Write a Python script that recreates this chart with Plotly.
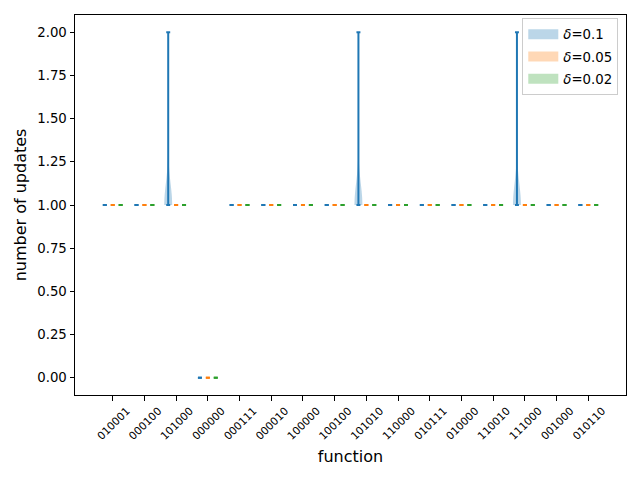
import numpy as np
import plotly.graph_objects as go

functions = ["010001", "000100", "101000", "000000", "000111", "000010", "100000", "100100",
             "101010", "110000", "010111", "010000", "110010", "111000", "001000", "010110"]

# number of updates observed per function: {value: count} for 20 runs
counts_d01 = [{1: 20}, {1: 20}, {1: 19, 2: 1}, {0: 20}, {1: 20}, {1: 20}, {1: 20}, {1: 20},
              {1: 19, 2: 1}, {1: 20}, {1: 20}, {1: 20}, {1: 20}, {1: 19, 2: 1}, {1: 20}, {1: 20}]
counts_d005 = [{1: 20}, {1: 20}, {1: 20}, {0: 20}, {1: 20}, {1: 20}, {1: 20}, {1: 20},
               {1: 20}, {1: 20}, {1: 20}, {1: 20}, {1: 20}, {1: 20}, {1: 20}, {1: 20}]
counts_d002 = [{1: 20}, {1: 20}, {1: 20}, {0: 20}, {1: 20}, {1: 20}, {1: 20}, {1: 20},
               {1: 20}, {1: 20}, {1: 20}, {1: 20}, {1: 20}, {1: 20}, {1: 20}, {1: 20}]

deltas = ["0.1", "0.05", "0.02"]
series = [counts_d01, counts_d005, counts_d002]
colors = ["#1f77b4", "#ff7f0e", "#2ca02c"]
fills = ["rgba(31,119,180,0.3)", "rgba(255,127,14,0.3)", "rgba(44,160,44,0.3)"]

WIDTH = 0.25
OFFSET = 0.25

fig = go.Figure()

def kde(samples, grid):
    s = np.asarray(samples, float)
    n = len(s)
    bw = np.std(s, ddof=1) * n ** (-1 / 5)
    z = (grid[:, None] - s[None, :]) / bw
    return np.exp(-0.5 * z ** 2).sum(axis=1)

for d, (cnts, col, fc) in enumerate(zip(series, colors, fills)):
    bx, by = [], []
    lx, ly = [], []
    for k, c in enumerate(cnts):
        pos = k + (d - 1) * OFFSET
        samples = []
        for v, n in c.items():
            samples += [v] * n
        vmin, vmax = min(samples), max(samples)
        if vmax > vmin:
            grid = np.linspace(vmin, vmax, 100)
            dens = kde(samples, grid)
            dens = dens / dens.max() * WIDTH / 2
            bx += list(pos - dens) + list((pos + dens)[::-1]) + [None]
            by += list(grid) + list(grid[::-1]) + [None]
        for v in (vmin, vmax):
            lx += [pos - WIDTH / 4, pos + WIDTH / 4, None]
            ly += [v, v, None]
        lx += [pos, pos, None]
        ly += [vmin, vmax, None]
    if bx:
        fig.add_trace(go.Scatter(x=bx, y=by, fill="toself", fillcolor=fc, mode="none",
                                 showlegend=False, hoverinfo="skip"))
    fig.add_trace(go.Scatter(x=lx, y=ly, mode="lines", line=dict(color=col, width=2),
                             showlegend=False, hoverinfo="skip"))

for d, fc in enumerate(fills):
    fig.add_trace(go.Scatter(x=[None], y=[None], mode="lines", line=dict(color=fc, width=10),
                             name="<i>δ</i>=" + deltas[d], legendgroup=str(d)))

font = dict(family="DejaVu Sans", size=13.3, color="black")
fig.update_layout(
    width=640, height=480,
    margin=dict(l=75, r=14, t=15, b=85),
    plot_bgcolor="white", paper_bgcolor="white",
    font=font,
    showlegend=True,
    legend=dict(x=0.986, y=0.992, xanchor="right", yanchor="top",
                bgcolor="rgba(255,255,255,0.8)", bordercolor="#cccccc", borderwidth=1,
                font=dict(family="DejaVu Sans", size=13.3), tracegroupgap=2,
                itemwidth=30),
    xaxis=dict(range=[-1.19, 16.19], tickmode="array", tickvals=list(range(len(functions))),
               ticktext=functions, tickangle=-45, tickfont=dict(size=10.7),
               ticks="outside", ticklen=4.5, tickwidth=1, tickcolor="black",
               showline=True, linecolor="black", linewidth=1, mirror=True,
               showgrid=False, zeroline=False, ticklabelshift=14, automargin=False,
               title=dict(text="function", standoff=9)),
    yaxis=dict(range=[-0.1, 2.1], tickmode="array",
               tickvals=[0, 0.25, 0.5, 0.75, 1.0, 1.25, 1.5, 1.75, 2.0],
               tickformat=".2f",
               ticks="outside", ticklen=4.5, tickwidth=1, tickcolor="black",
               showline=True, linecolor="black", linewidth=1, mirror=True,
               showgrid=False, zeroline=False, automargin=False,
               title=dict(text="number of updates", standoff=6)),
)

fig.write_html("out.html", post_script="document.body.style.margin='0';",
               config={"displayModeBar": False})
